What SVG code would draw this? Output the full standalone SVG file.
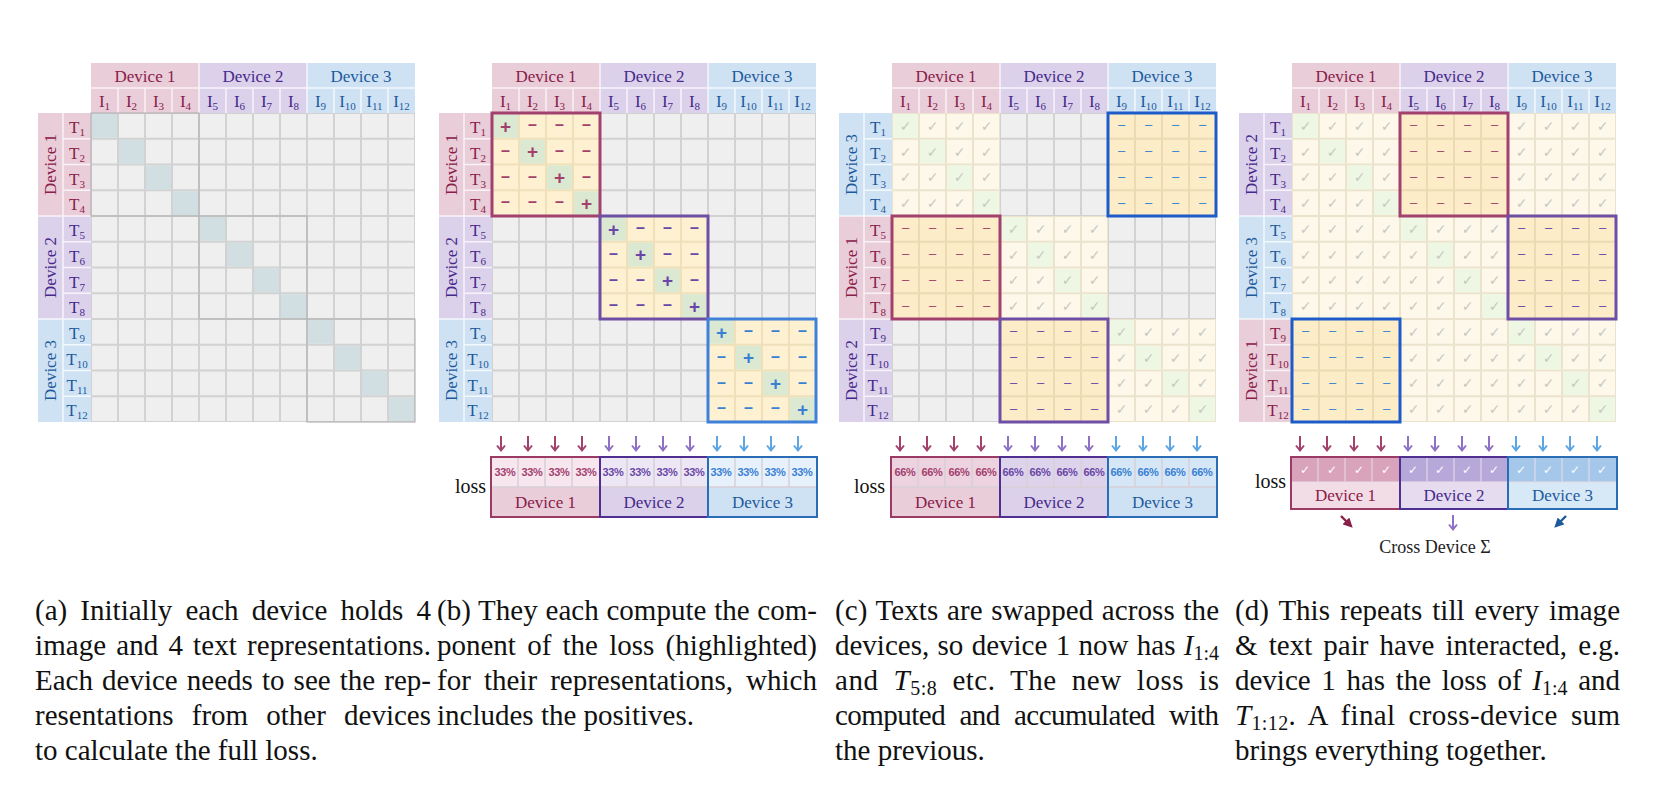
<svg xmlns="http://www.w3.org/2000/svg" width="1658" height="786" viewBox="0 0 1658 786">
<style>
.f1{fill:#e9cdd9}.f2{fill:#dcd1ea}.f3{fill:#cfe2f4}
.c1{fill:#8a2049}.c2{fill:#45298c}.c3{fill:#1d5a9c}
.s1{fill:#a3416e}.s2{fill:#6a47a6}.s3{fill:#3a80d2}
.lbl{font-family:"Liberation Serif","Times New Roman",serif;font-size:17px;text-anchor:middle}
.sub{font-size:11px}
.wl{stroke:#fff;stroke-opacity:.75;stroke-width:1.5;fill:none}
.pl{font-family:"Liberation Sans",Arial,sans-serif;font-size:19px;font-weight:bold;text-anchor:middle}
.dsh{font-family:"Liberation Sans",Arial,sans-serif;font-size:16px;font-weight:bold;text-anchor:middle}
.dsm{font-family:"Liberation Sans",Arial,sans-serif;font-size:13px;text-anchor:middle}
.ck{font-family:"DejaVu Sans",sans-serif;font-size:14px;fill:#c8c8c3;text-anchor:middle}
.wck{font-family:"DejaVu Sans",sans-serif;font-size:12px;font-weight:bold;fill:#fff;text-anchor:middle}
.pct{font-family:"Liberation Sans",Arial,sans-serif;font-size:11px;font-weight:bold;text-anchor:middle;letter-spacing:-0.3px}
.loss{font-family:"Liberation Serif","Times New Roman",serif;font-size:20px;fill:#111;text-anchor:end}
.cap{font-family:"Liberation Serif","Times New Roman",serif;font-size:29px;fill:#111}
.gd{fill:#d2dfe2}.gb{fill:#dbe9d2}.gc{fill:#eef7e3}
.b1{fill:none;stroke:#a3416e;stroke-width:3}.b2{fill:none;stroke:#6e4fa5;stroke-width:3}.b3{fill:none;stroke:#3f80d8;stroke-width:3}.b3d{fill:none;stroke:#1d5cc8;stroke-width:3}
.ob{fill:none;stroke:#b5b5b5;stroke-width:1.2}
.ar1{stroke:#a3416e;stroke-width:2;fill:none}.ar2{stroke:#8e70c6;stroke-width:2;fill:none}.ar3{stroke:#5ea6e2;stroke-width:2;fill:none}
.sep{stroke:#d8cfd6;stroke-width:1.5;fill:none}
</style>
<defs>
<pattern id="pG" patternUnits="userSpaceOnUse" x="0" y="113" width="27" height="25.75"><rect width="27" height="25.75" fill="#efefef" stroke="#d2d2d2" stroke-width="2"/></pattern>
<pattern id="pC" patternUnits="userSpaceOnUse" x="0" y="113" width="27" height="25.75"><rect width="27" height="25.75" fill="#fdf8ea" stroke="#ebe3cd" stroke-width="2"/></pattern>
<pattern id="pY" patternUnits="userSpaceOnUse" x="0" y="113" width="27" height="25.75"><rect width="27" height="25.75" fill="#fdf1d2" stroke="#efe0ba" stroke-width="2"/></pattern>
<pattern id="pD" patternUnits="userSpaceOnUse" x="0" y="113" width="27" height="25.75"><rect width="27" height="25.75" fill="#fdecc8" stroke="#ecdbb2" stroke-width="2"/></pattern>
<marker id="m1" viewBox="0 0 10 10" refX="6" refY="5" markerWidth="4" markerHeight="4" orient="auto"><path d="M0 0L10 5L0 10z" fill="#8a2049"/></marker>
<marker id="m3" viewBox="0 0 10 10" refX="6" refY="5" markerWidth="4" markerHeight="4" orient="auto"><path d="M0 0L10 5L0 10z" fill="#1d5a9c"/></marker>
</defs>
<rect width="1658" height="786" fill="#fff"/>

<!-- ===== Panel (a) ===== -->
<g id="panel-a" transform="translate(91,0)">
<rect class="f1" x="0" y="63" width="108" height="50"/><rect class="f2" x="108" y="63" width="108" height="50"/><rect class="f3" x="216" y="63" width="108" height="50"/>
<path class="wl" d="M0 88H324M27 88V113M54 88V113M81 88V113M108 63V113M135 88V113M162 88V113M189 88V113M216 63V113M243 88V113M270 88V113M297 88V113"/>
<rect class="f1" x="-53" y="113" width="53" height="103"/><rect class="f2" x="-53" y="216" width="53" height="103"/><rect class="f3" x="-53" y="319" width="53" height="103"/>
<path class="wl" d="M-28 113V422M-28 138.75H0M-28 164.5H0M-28 190.25H0M-53 216H0M-28 241.75H0M-28 267.5H0M-28 293.25H0M-53 319H0M-28 344.75H0M-28 370.5H0M-28 396.25H0"/>
<rect x="0" y="113" width="324" height="309" fill="url(#pG)"/>
<rect class="gd" x="1" y="114" width="25" height="23.75"/><rect class="gd" x="28" y="139.75" width="25" height="23.75"/><rect class="gd" x="55" y="165.5" width="25" height="23.75"/><rect class="gd" x="82" y="191.25" width="25" height="23.75"/>
<rect class="gd" x="109" y="217" width="25" height="23.75"/><rect class="gd" x="136" y="242.75" width="25" height="23.75"/><rect class="gd" x="163" y="268.5" width="25" height="23.75"/><rect class="gd" x="190" y="294.25" width="25" height="23.75"/>
<rect class="gd" x="217" y="320" width="25" height="23.75"/><rect class="gd" x="244" y="345.75" width="25" height="23.75"/><rect class="gd" x="271" y="371.5" width="25" height="23.75"/><rect class="gd" x="298" y="397.25" width="25" height="23.75"/>
<rect class="ob" x="0" y="113" width="108" height="103"/><rect class="ob" x="108" y="216" width="108" height="103"/><rect class="ob" x="216" y="319" width="108" height="103"/>
<text class="lbl c1" x="54" y="82">Device 1</text><text class="lbl c2" x="162" y="82">Device 2</text><text class="lbl c3" x="270" y="82">Device 3</text>
<text class="lbl c1" x="13.5" y="107">I<tspan class="sub" dy="3">1</tspan></text><text class="lbl c1" x="40.5" y="107">I<tspan class="sub" dy="3">2</tspan></text><text class="lbl c1" x="67.5" y="107">I<tspan class="sub" dy="3">3</tspan></text><text class="lbl c1" x="94.5" y="107">I<tspan class="sub" dy="3">4</tspan></text>
<text class="lbl c2" x="121.5" y="107">I<tspan class="sub" dy="3">5</tspan></text><text class="lbl c2" x="148.5" y="107">I<tspan class="sub" dy="3">6</tspan></text><text class="lbl c2" x="175.5" y="107">I<tspan class="sub" dy="3">7</tspan></text><text class="lbl c2" x="202.5" y="107">I<tspan class="sub" dy="3">8</tspan></text>
<text class="lbl c3" x="229.5" y="107">I<tspan class="sub" dy="3">9</tspan></text><text class="lbl c3" x="256.5" y="107">I<tspan class="sub" dy="3">10</tspan></text><text class="lbl c3" x="283.5" y="107">I<tspan class="sub" dy="3">11</tspan></text><text class="lbl c3" x="310.5" y="107">I<tspan class="sub" dy="3">12</tspan></text>
<text class="lbl c1" transform="translate(-40.5,164.5) rotate(-90)" y="5.5">Device 1</text><text class="lbl c2" transform="translate(-40.5,267.5) rotate(-90)" y="5.5">Device 2</text><text class="lbl c3" transform="translate(-40.5,370.5) rotate(-90)" y="5.5">Device 3</text>
<text class="lbl c1" x="-14" y="133">T<tspan class="sub" dy="3">1</tspan></text><text class="lbl c1" x="-14" y="158.75">T<tspan class="sub" dy="3">2</tspan></text><text class="lbl c1" x="-14" y="184.5">T<tspan class="sub" dy="3">3</tspan></text><text class="lbl c1" x="-14" y="210.25">T<tspan class="sub" dy="3">4</tspan></text>
<text class="lbl c2" x="-14" y="236">T<tspan class="sub" dy="3">5</tspan></text><text class="lbl c2" x="-14" y="261.75">T<tspan class="sub" dy="3">6</tspan></text><text class="lbl c2" x="-14" y="287.5">T<tspan class="sub" dy="3">7</tspan></text><text class="lbl c2" x="-14" y="313.25">T<tspan class="sub" dy="3">8</tspan></text>
<text class="lbl c3" x="-14" y="339">T<tspan class="sub" dy="3">9</tspan></text><text class="lbl c3" x="-14" y="364.75">T<tspan class="sub" dy="3">10</tspan></text><text class="lbl c3" x="-14" y="390.5">T<tspan class="sub" dy="3">11</tspan></text><text class="lbl c3" x="-14" y="416.25">T<tspan class="sub" dy="3">12</tspan></text>
</g>

<!-- ===== Panel (b) ===== -->
<g id="panel-b" transform="translate(492,0)">
<rect class="f1" x="0" y="63" width="108" height="50"/><rect class="f2" x="108" y="63" width="108" height="50"/><rect class="f3" x="216" y="63" width="108" height="50"/>
<path class="wl" d="M0 88H324M27 88V113M54 88V113M81 88V113M108 63V113M135 88V113M162 88V113M189 88V113M216 63V113M243 88V113M270 88V113M297 88V113"/>
<rect class="f1" x="-53" y="113" width="53" height="103"/><rect class="f2" x="-53" y="216" width="53" height="103"/><rect class="f3" x="-53" y="319" width="53" height="103"/>
<path class="wl" d="M-28 113V422M-28 138.75H0M-28 164.5H0M-28 190.25H0M-53 216H0M-28 241.75H0M-28 267.5H0M-28 293.25H0M-53 319H0M-28 344.75H0M-28 370.5H0M-28 396.25H0"/>
<rect x="0" y="113" width="324" height="309" fill="url(#pG)"/>
<rect x="0" y="113" width="108" height="103" fill="url(#pY)"/><rect x="108" y="216" width="108" height="103" fill="url(#pY)"/><rect x="216" y="319" width="108" height="103" fill="url(#pY)"/>
<rect class="gb" x="1" y="114" width="25" height="23.75"/><rect class="gb" x="28" y="139.75" width="25" height="23.75"/><rect class="gb" x="55" y="165.5" width="25" height="23.75"/><rect class="gb" x="82" y="191.25" width="25" height="23.75"/>
<rect class="gb" x="109" y="217" width="25" height="23.75"/><rect class="gb" x="136" y="242.75" width="25" height="23.75"/><rect class="gb" x="163" y="268.5" width="25" height="23.75"/><rect class="gb" x="190" y="294.25" width="25" height="23.75"/>
<rect class="gb" x="217" y="320" width="25" height="23.75"/><rect class="gb" x="244" y="345.75" width="25" height="23.75"/><rect class="gb" x="271" y="371.5" width="25" height="23.75"/><rect class="gb" x="298" y="397.25" width="25" height="23.75"/>
<rect class="b1" x="0" y="113" width="108" height="103"/><rect class="b2" x="108" y="216" width="108" height="103"/><rect class="b3" x="216" y="319" width="108" height="103"/>
<text class="pl s1" x="13.5" y="132.5">+</text><text class="pl s1" x="40.5" y="158.2">+</text><text class="pl s1" x="67.5" y="184">+</text><text class="pl s1" x="94.5" y="209.7">+</text>
<text class="pl s2" x="121.5" y="235.5">+</text><text class="pl s2" x="148.5" y="261.2">+</text><text class="pl s2" x="175.5" y="287">+</text><text class="pl s2" x="202.5" y="312.7">+</text>
<text class="pl s3" x="229.5" y="338.5">+</text><text class="pl s3" x="256.5" y="364.2">+</text><text class="pl s3" x="283.5" y="390">+</text><text class="pl s3" x="310.5" y="415.7">+</text>
<text class="dsh s1" x="40.5 67.5 94.5" y="130.2">–––</text>
<text class="dsh s1" x="13.5" y="155.9">–</text><text class="dsh s1" x="67.5 94.5" y="155.9">––</text>
<text class="dsh s1" x="13.5 40.5" y="181.7">––</text><text class="dsh s1" x="94.5" y="181.7">–</text>
<text class="dsh s1" x="13.5 40.5 67.5" y="207.4">–––</text>
<text class="dsh s2" x="148.5 175.5 202.5" y="233.2">–––</text>
<text class="dsh s2" x="121.5" y="258.9">–</text><text class="dsh s2" x="175.5 202.5" y="258.9">––</text>
<text class="dsh s2" x="121.5 148.5" y="284.7">––</text><text class="dsh s2" x="202.5" y="284.7">–</text>
<text class="dsh s2" x="121.5 148.5 175.5" y="310.4">–––</text>
<text class="dsh s3" x="256.5 283.5 310.5" y="336.2">–––</text>
<text class="dsh s3" x="229.5" y="361.9">–</text><text class="dsh s3" x="283.5 310.5" y="361.9">––</text>
<text class="dsh s3" x="229.5 256.5" y="387.7">––</text><text class="dsh s3" x="310.5" y="387.7">–</text>
<text class="dsh s3" x="229.5 256.5 283.5" y="413.4">–––</text>
<text class="lbl c1" x="54" y="82">Device 1</text><text class="lbl c2" x="162" y="82">Device 2</text><text class="lbl c3" x="270" y="82">Device 3</text>
<text class="lbl c1" x="13.5" y="107">I<tspan class="sub" dy="3">1</tspan></text><text class="lbl c1" x="40.5" y="107">I<tspan class="sub" dy="3">2</tspan></text><text class="lbl c1" x="67.5" y="107">I<tspan class="sub" dy="3">3</tspan></text><text class="lbl c1" x="94.5" y="107">I<tspan class="sub" dy="3">4</tspan></text>
<text class="lbl c2" x="121.5" y="107">I<tspan class="sub" dy="3">5</tspan></text><text class="lbl c2" x="148.5" y="107">I<tspan class="sub" dy="3">6</tspan></text><text class="lbl c2" x="175.5" y="107">I<tspan class="sub" dy="3">7</tspan></text><text class="lbl c2" x="202.5" y="107">I<tspan class="sub" dy="3">8</tspan></text>
<text class="lbl c3" x="229.5" y="107">I<tspan class="sub" dy="3">9</tspan></text><text class="lbl c3" x="256.5" y="107">I<tspan class="sub" dy="3">10</tspan></text><text class="lbl c3" x="283.5" y="107">I<tspan class="sub" dy="3">11</tspan></text><text class="lbl c3" x="310.5" y="107">I<tspan class="sub" dy="3">12</tspan></text>
<text class="lbl c1" transform="translate(-40.5,164.5) rotate(-90)" y="5.5">Device 1</text><text class="lbl c2" transform="translate(-40.5,267.5) rotate(-90)" y="5.5">Device 2</text><text class="lbl c3" transform="translate(-40.5,370.5) rotate(-90)" y="5.5">Device 3</text>
<text class="lbl c1" x="-14" y="133">T<tspan class="sub" dy="3">1</tspan></text><text class="lbl c1" x="-14" y="158.75">T<tspan class="sub" dy="3">2</tspan></text><text class="lbl c1" x="-14" y="184.5">T<tspan class="sub" dy="3">3</tspan></text><text class="lbl c1" x="-14" y="210.25">T<tspan class="sub" dy="3">4</tspan></text>
<text class="lbl c2" x="-14" y="236">T<tspan class="sub" dy="3">5</tspan></text><text class="lbl c2" x="-14" y="261.75">T<tspan class="sub" dy="3">6</tspan></text><text class="lbl c2" x="-14" y="287.5">T<tspan class="sub" dy="3">7</tspan></text><text class="lbl c2" x="-14" y="313.25">T<tspan class="sub" dy="3">8</tspan></text>
<text class="lbl c3" x="-14" y="339">T<tspan class="sub" dy="3">9</tspan></text><text class="lbl c3" x="-14" y="364.75">T<tspan class="sub" dy="3">10</tspan></text><text class="lbl c3" x="-14" y="390.5">T<tspan class="sub" dy="3">11</tspan></text><text class="lbl c3" x="-14" y="416.25">T<tspan class="sub" dy="3">12</tspan></text>
<g id="loss-b">
<rect x="-1" y="457" width="109" height="30" fill="#f7e6ee"/><rect class="f1" x="-1" y="487" width="109" height="30"/>
<rect x="108" y="457" width="108" height="30" fill="#ede7f5"/><rect class="f2" x="108" y="487" width="108" height="30"/>
<rect x="216" y="457" width="109" height="30" fill="#e6f1fc"/><rect class="f3" x="216" y="487" width="109" height="30"/>
<path class="sep" d="M26 457V487M53 457V487M80 457V487M135 457V487M162 457V487M189 457V487M243 457V487M270 457V487M297 457V487M-1 487H325"/>
<rect x="-1" y="457" width="109" height="60" fill="none" stroke="#9c3a66" stroke-width="2"/><rect x="108" y="457" width="108" height="60" fill="none" stroke="#4f3092" stroke-width="2"/><rect x="216" y="457" width="109" height="60" fill="none" stroke="#2a6cb5" stroke-width="2"/>
<text class="pct s1" y="476"><tspan x="13">33%</tspan><tspan x="40">33%</tspan><tspan x="67">33%</tspan><tspan x="94">33%</tspan></text>
<text class="pct s2" y="476"><tspan x="121">33%</tspan><tspan x="148">33%</tspan><tspan x="175">33%</tspan><tspan x="202">33%</tspan></text>
<text class="pct s3" y="476"><tspan x="229">33%</tspan><tspan x="256">33%</tspan><tspan x="283">33%</tspan><tspan x="310">33%</tspan></text>
<text class="lbl c1" x="53.5" y="508">Device 1</text><text class="lbl c2" x="162" y="508">Device 2</text><text class="lbl c3" x="270.5" y="508">Device 3</text>
<text class="loss" x="-6" y="493">loss</text>
</g>
</g>

<!-- ===== Panel (c) ===== -->
<g id="panel-c" transform="translate(892,0)">
<rect class="f1" x="0" y="63" width="108" height="50"/><rect class="f2" x="108" y="63" width="108" height="50"/><rect class="f3" x="216" y="63" width="108" height="50"/>
<path class="wl" d="M0 88H324M27 88V113M54 88V113M81 88V113M108 63V113M135 88V113M162 88V113M189 88V113M216 63V113M243 88V113M270 88V113M297 88V113"/>
<rect class="f3" x="-53" y="113" width="53" height="103"/><rect class="f1" x="-53" y="216" width="53" height="103"/><rect class="f2" x="-53" y="319" width="53" height="103"/>
<path class="wl" d="M-28 113V422M-28 138.75H0M-28 164.5H0M-28 190.25H0M-53 216H0M-28 241.75H0M-28 267.5H0M-28 293.25H0M-53 319H0M-28 344.75H0M-28 370.5H0M-28 396.25H0"/>
<rect x="0" y="113" width="324" height="309" fill="url(#pG)"/>
<rect x="0" y="113" width="108" height="103" fill="url(#pC)"/><rect x="108" y="216" width="108" height="103" fill="url(#pC)"/><rect x="216" y="319" width="108" height="103" fill="url(#pC)"/>
<rect x="216" y="113" width="108" height="103" fill="url(#pD)"/><rect x="0" y="216" width="108" height="103" fill="url(#pD)"/><rect x="108" y="319" width="108" height="103" fill="url(#pD)"/>
<rect class="gc" x="1" y="114" width="25" height="23.75"/><rect class="gc" x="28" y="139.75" width="25" height="23.75"/><rect class="gc" x="55" y="165.5" width="25" height="23.75"/><rect class="gc" x="82" y="191.25" width="25" height="23.75"/>
<rect class="gc" x="109" y="217" width="25" height="23.75"/><rect class="gc" x="136" y="242.75" width="25" height="23.75"/><rect class="gc" x="163" y="268.5" width="25" height="23.75"/><rect class="gc" x="190" y="294.25" width="25" height="23.75"/>
<rect class="gc" x="217" y="320" width="25" height="23.75"/><rect class="gc" x="244" y="345.75" width="25" height="23.75"/><rect class="gc" x="271" y="371.5" width="25" height="23.75"/><rect class="gc" x="298" y="397.25" width="25" height="23.75"/>
<rect class="b3d" x="216" y="113" width="108" height="103"/><rect class="b1" x="0" y="216" width="108" height="103"/><rect class="b2" x="108" y="319" width="108" height="103"/>
<text class="ck" x="13.5 40.5 67.5 94.5" y="130.9">✓✓✓✓</text><text class="ck" x="13.5 40.5 67.5 94.5" y="156.6">✓✓✓✓</text><text class="ck" x="13.5 40.5 67.5 94.5" y="182.4">✓✓✓✓</text><text class="ck" x="13.5 40.5 67.5 94.5" y="208.1">✓✓✓✓</text>
<text class="ck" x="121.5 148.5 175.5 202.5" y="233.9">✓✓✓✓</text><text class="ck" x="121.5 148.5 175.5 202.5" y="259.6">✓✓✓✓</text><text class="ck" x="121.5 148.5 175.5 202.5" y="285.4">✓✓✓✓</text><text class="ck" x="121.5 148.5 175.5 202.5" y="311.1">✓✓✓✓</text>
<text class="ck" x="229.5 256.5 283.5 310.5" y="336.9">✓✓✓✓</text><text class="ck" x="229.5 256.5 283.5 310.5" y="362.6">✓✓✓✓</text><text class="ck" x="229.5 256.5 283.5 310.5" y="388.4">✓✓✓✓</text><text class="ck" x="229.5 256.5 283.5 310.5" y="414.1">✓✓✓✓</text>
<text class="dsm s3" x="229.5 256.5 283.5 310.5" y="129.4">––––</text><text class="dsm s3" x="229.5 256.5 283.5 310.5" y="155.1">––––</text><text class="dsm s3" x="229.5 256.5 283.5 310.5" y="180.9">––––</text><text class="dsm s3" x="229.5 256.5 283.5 310.5" y="206.6">––––</text>
<text class="dsm s1" x="13.5 40.5 67.5 94.5" y="232.4">––––</text><text class="dsm s1" x="13.5 40.5 67.5 94.5" y="258.1">––––</text><text class="dsm s1" x="13.5 40.5 67.5 94.5" y="283.9">––––</text><text class="dsm s1" x="13.5 40.5 67.5 94.5" y="309.6">––––</text>
<text class="dsm s2" x="121.5 148.5 175.5 202.5" y="335.4">––––</text><text class="dsm s2" x="121.5 148.5 175.5 202.5" y="361.1">––––</text><text class="dsm s2" x="121.5 148.5 175.5 202.5" y="386.9">––––</text><text class="dsm s2" x="121.5 148.5 175.5 202.5" y="412.6">––––</text>
<text class="lbl c1" x="54" y="82">Device 1</text><text class="lbl c2" x="162" y="82">Device 2</text><text class="lbl c3" x="270" y="82">Device 3</text>
<text class="lbl c1" x="13.5" y="107">I<tspan class="sub" dy="3">1</tspan></text><text class="lbl c1" x="40.5" y="107">I<tspan class="sub" dy="3">2</tspan></text><text class="lbl c1" x="67.5" y="107">I<tspan class="sub" dy="3">3</tspan></text><text class="lbl c1" x="94.5" y="107">I<tspan class="sub" dy="3">4</tspan></text>
<text class="lbl c2" x="121.5" y="107">I<tspan class="sub" dy="3">5</tspan></text><text class="lbl c2" x="148.5" y="107">I<tspan class="sub" dy="3">6</tspan></text><text class="lbl c2" x="175.5" y="107">I<tspan class="sub" dy="3">7</tspan></text><text class="lbl c2" x="202.5" y="107">I<tspan class="sub" dy="3">8</tspan></text>
<text class="lbl c3" x="229.5" y="107">I<tspan class="sub" dy="3">9</tspan></text><text class="lbl c3" x="256.5" y="107">I<tspan class="sub" dy="3">10</tspan></text><text class="lbl c3" x="283.5" y="107">I<tspan class="sub" dy="3">11</tspan></text><text class="lbl c3" x="310.5" y="107">I<tspan class="sub" dy="3">12</tspan></text>
<text class="lbl c3" transform="translate(-40.5,164.5) rotate(-90)" y="5.5">Device 3</text><text class="lbl c1" transform="translate(-40.5,267.5) rotate(-90)" y="5.5">Device 1</text><text class="lbl c2" transform="translate(-40.5,370.5) rotate(-90)" y="5.5">Device 2</text>
<text class="lbl c3" x="-14" y="133">T<tspan class="sub" dy="3">1</tspan></text><text class="lbl c3" x="-14" y="158.75">T<tspan class="sub" dy="3">2</tspan></text><text class="lbl c3" x="-14" y="184.5">T<tspan class="sub" dy="3">3</tspan></text><text class="lbl c3" x="-14" y="210.25">T<tspan class="sub" dy="3">4</tspan></text>
<text class="lbl c1" x="-14" y="236">T<tspan class="sub" dy="3">5</tspan></text><text class="lbl c1" x="-14" y="261.75">T<tspan class="sub" dy="3">6</tspan></text><text class="lbl c1" x="-14" y="287.5">T<tspan class="sub" dy="3">7</tspan></text><text class="lbl c1" x="-14" y="313.25">T<tspan class="sub" dy="3">8</tspan></text>
<text class="lbl c2" x="-14" y="339">T<tspan class="sub" dy="3">9</tspan></text><text class="lbl c2" x="-14" y="364.75">T<tspan class="sub" dy="3">10</tspan></text><text class="lbl c2" x="-14" y="390.5">T<tspan class="sub" dy="3">11</tspan></text><text class="lbl c2" x="-14" y="416.25">T<tspan class="sub" dy="3">12</tspan></text>
<g id="loss-c">
<rect x="-1" y="457" width="109" height="30" fill="#ecd3df"/><rect class="f1" x="-1" y="487" width="109" height="30"/>
<rect x="108" y="457" width="108" height="30" fill="#ddd4ec"/><rect class="f2" x="108" y="487" width="108" height="30"/>
<rect x="216" y="457" width="109" height="30" fill="#d5e7f7"/><rect class="f3" x="216" y="487" width="109" height="30"/>
<path class="sep" d="M26 457V487M53 457V487M80 457V487M135 457V487M162 457V487M189 457V487M243 457V487M270 457V487M297 457V487M-1 487H325"/>
<rect x="-1" y="457" width="109" height="60" fill="none" stroke="#9c3a66" stroke-width="2"/><rect x="108" y="457" width="108" height="60" fill="none" stroke="#4f3092" stroke-width="2"/><rect x="216" y="457" width="109" height="60" fill="none" stroke="#2a6cb5" stroke-width="2"/>
<text class="pct s1" y="476"><tspan x="13">66%</tspan><tspan x="40">66%</tspan><tspan x="67">66%</tspan><tspan x="94">66%</tspan></text>
<text class="pct s2" y="476"><tspan x="121">66%</tspan><tspan x="148">66%</tspan><tspan x="175">66%</tspan><tspan x="202">66%</tspan></text>
<text class="pct s3" y="476"><tspan x="229">66%</tspan><tspan x="256">66%</tspan><tspan x="283">66%</tspan><tspan x="310">66%</tspan></text>
<text class="lbl c1" x="53.5" y="508">Device 1</text><text class="lbl c2" x="162" y="508">Device 2</text><text class="lbl c3" x="270.5" y="508">Device 3</text>
<text class="loss" x="-7" y="493">loss</text>
</g>
</g>

<!-- ===== Panel (d) ===== -->
<g id="panel-d" transform="translate(1292,0)">
<rect class="f1" x="0" y="63" width="108" height="50"/><rect class="f2" x="108" y="63" width="108" height="50"/><rect class="f3" x="216" y="63" width="108" height="50"/>
<path class="wl" d="M0 88H324M27 88V113M54 88V113M81 88V113M108 63V113M135 88V113M162 88V113M189 88V113M216 63V113M243 88V113M270 88V113M297 88V113"/>
<rect class="f2" x="-53" y="113" width="53" height="103"/><rect class="f3" x="-53" y="216" width="53" height="103"/><rect class="f1" x="-53" y="319" width="53" height="103"/>
<path class="wl" d="M-28 113V422M-28 138.75H0M-28 164.5H0M-28 190.25H0M-53 216H0M-28 241.75H0M-28 267.5H0M-28 293.25H0M-53 319H0M-28 344.75H0M-28 370.5H0M-28 396.25H0"/>
<rect x="0" y="113" width="324" height="309" fill="url(#pC)"/>
<rect x="108" y="113" width="108" height="103" fill="url(#pD)"/><rect x="216" y="216" width="108" height="103" fill="url(#pD)"/><rect x="0" y="319" width="108" height="103" fill="url(#pD)"/>
<rect class="gc" x="1" y="114" width="25" height="23.75"/><rect class="gc" x="28" y="139.75" width="25" height="23.75"/><rect class="gc" x="55" y="165.5" width="25" height="23.75"/><rect class="gc" x="82" y="191.25" width="25" height="23.75"/>
<rect class="gc" x="109" y="217" width="25" height="23.75"/><rect class="gc" x="136" y="242.75" width="25" height="23.75"/><rect class="gc" x="163" y="268.5" width="25" height="23.75"/><rect class="gc" x="190" y="294.25" width="25" height="23.75"/>
<rect class="gc" x="217" y="320" width="25" height="23.75"/><rect class="gc" x="244" y="345.75" width="25" height="23.75"/><rect class="gc" x="271" y="371.5" width="25" height="23.75"/><rect class="gc" x="298" y="397.25" width="25" height="23.75"/>
<rect class="b1" x="108" y="113" width="108" height="103"/><rect class="b2" x="216" y="216" width="108" height="103"/><rect class="b3d" x="0" y="319" width="108" height="103"/>
<text class="ck" x="13.5 40.5 67.5 94.5" y="130.9">✓✓✓✓</text><text class="ck" x="229.5 256.5 283.5 310.5" y="130.9">✓✓✓✓</text>
<text class="ck" x="13.5 40.5 67.5 94.5" y="156.6">✓✓✓✓</text><text class="ck" x="229.5 256.5 283.5 310.5" y="156.6">✓✓✓✓</text>
<text class="ck" x="13.5 40.5 67.5 94.5" y="182.4">✓✓✓✓</text><text class="ck" x="229.5 256.5 283.5 310.5" y="182.4">✓✓✓✓</text>
<text class="ck" x="13.5 40.5 67.5 94.5" y="208.1">✓✓✓✓</text><text class="ck" x="229.5 256.5 283.5 310.5" y="208.1">✓✓✓✓</text>
<text class="ck" x="13.5 40.5 67.5 94.5 121.5 148.5 175.5 202.5" y="233.9">✓✓✓✓✓✓✓✓</text><text class="ck" x="13.5 40.5 67.5 94.5 121.5 148.5 175.5 202.5" y="259.6">✓✓✓✓✓✓✓✓</text><text class="ck" x="13.5 40.5 67.5 94.5 121.5 148.5 175.5 202.5" y="285.4">✓✓✓✓✓✓✓✓</text><text class="ck" x="13.5 40.5 67.5 94.5 121.5 148.5 175.5 202.5" y="311.1">✓✓✓✓✓✓✓✓</text>
<text class="ck" x="121.5 148.5 175.5 202.5 229.5 256.5 283.5 310.5" y="336.9">✓✓✓✓✓✓✓✓</text><text class="ck" x="121.5 148.5 175.5 202.5 229.5 256.5 283.5 310.5" y="362.6">✓✓✓✓✓✓✓✓</text><text class="ck" x="121.5 148.5 175.5 202.5 229.5 256.5 283.5 310.5" y="388.4">✓✓✓✓✓✓✓✓</text><text class="ck" x="121.5 148.5 175.5 202.5 229.5 256.5 283.5 310.5" y="414.1">✓✓✓✓✓✓✓✓</text>
<text class="dsm s1" x="121.5 148.5 175.5 202.5" y="129.4">––––</text><text class="dsm s1" x="121.5 148.5 175.5 202.5" y="155.1">––––</text><text class="dsm s1" x="121.5 148.5 175.5 202.5" y="180.9">––––</text><text class="dsm s1" x="121.5 148.5 175.5 202.5" y="206.6">––––</text>
<text class="dsm s2" x="229.5 256.5 283.5 310.5" y="232.4">––––</text><text class="dsm s2" x="229.5 256.5 283.5 310.5" y="258.1">––––</text><text class="dsm s2" x="229.5 256.5 283.5 310.5" y="283.9">––––</text><text class="dsm s2" x="229.5 256.5 283.5 310.5" y="309.6">––––</text>
<text class="dsm s3" x="13.5 40.5 67.5 94.5" y="335.4">––––</text><text class="dsm s3" x="13.5 40.5 67.5 94.5" y="361.1">––––</text><text class="dsm s3" x="13.5 40.5 67.5 94.5" y="386.9">––––</text><text class="dsm s3" x="13.5 40.5 67.5 94.5" y="412.6">––––</text>
<text class="lbl c1" x="54" y="82">Device 1</text><text class="lbl c2" x="162" y="82">Device 2</text><text class="lbl c3" x="270" y="82">Device 3</text>
<text class="lbl c1" x="13.5" y="107">I<tspan class="sub" dy="3">1</tspan></text><text class="lbl c1" x="40.5" y="107">I<tspan class="sub" dy="3">2</tspan></text><text class="lbl c1" x="67.5" y="107">I<tspan class="sub" dy="3">3</tspan></text><text class="lbl c1" x="94.5" y="107">I<tspan class="sub" dy="3">4</tspan></text>
<text class="lbl c2" x="121.5" y="107">I<tspan class="sub" dy="3">5</tspan></text><text class="lbl c2" x="148.5" y="107">I<tspan class="sub" dy="3">6</tspan></text><text class="lbl c2" x="175.5" y="107">I<tspan class="sub" dy="3">7</tspan></text><text class="lbl c2" x="202.5" y="107">I<tspan class="sub" dy="3">8</tspan></text>
<text class="lbl c3" x="229.5" y="107">I<tspan class="sub" dy="3">9</tspan></text><text class="lbl c3" x="256.5" y="107">I<tspan class="sub" dy="3">10</tspan></text><text class="lbl c3" x="283.5" y="107">I<tspan class="sub" dy="3">11</tspan></text><text class="lbl c3" x="310.5" y="107">I<tspan class="sub" dy="3">12</tspan></text>
<text class="lbl c2" transform="translate(-40.5,164.5) rotate(-90)" y="5.5">Device 2</text><text class="lbl c3" transform="translate(-40.5,267.5) rotate(-90)" y="5.5">Device 3</text><text class="lbl c1" transform="translate(-40.5,370.5) rotate(-90)" y="5.5">Device 1</text>
<text class="lbl c2" x="-14" y="133">T<tspan class="sub" dy="3">1</tspan></text><text class="lbl c2" x="-14" y="158.75">T<tspan class="sub" dy="3">2</tspan></text><text class="lbl c2" x="-14" y="184.5">T<tspan class="sub" dy="3">3</tspan></text><text class="lbl c2" x="-14" y="210.25">T<tspan class="sub" dy="3">4</tspan></text>
<text class="lbl c3" x="-14" y="236">T<tspan class="sub" dy="3">5</tspan></text><text class="lbl c3" x="-14" y="261.75">T<tspan class="sub" dy="3">6</tspan></text><text class="lbl c3" x="-14" y="287.5">T<tspan class="sub" dy="3">7</tspan></text><text class="lbl c3" x="-14" y="313.25">T<tspan class="sub" dy="3">8</tspan></text>
<text class="lbl c1" x="-14" y="339">T<tspan class="sub" dy="3">9</tspan></text><text class="lbl c1" x="-14" y="364.75">T<tspan class="sub" dy="3">10</tspan></text><text class="lbl c1" x="-14" y="390.5">T<tspan class="sub" dy="3">11</tspan></text><text class="lbl c1" x="-14" y="416.25">T<tspan class="sub" dy="3">12</tspan></text>
<g id="loss-d">
<rect x="-1" y="457" width="109" height="25" fill="#d9a3bb"/><rect x="-1" y="482" width="109" height="27" fill="#f2dde6"/>
<rect x="108" y="457" width="108" height="25" fill="#b7a8da"/><rect x="108" y="482" width="108" height="27" fill="#e5dcf0"/>
<rect x="216" y="457" width="109" height="25" fill="#a5c8ea"/><rect x="216" y="482" width="109" height="27" fill="#d7e8f7"/>
<path d="M26 457V482M53 457V482M80 457V482M135 457V482M162 457V482M189 457V482M243 457V482M270 457V482M297 457V482M-1 482H325" stroke="#e6dde6" stroke-opacity=".7" stroke-width="1.5" fill="none"/>
<rect x="-1" y="457" width="109" height="52" fill="none" stroke="#9c3a66" stroke-width="2"/><rect x="108" y="457" width="108" height="52" fill="none" stroke="#4f3092" stroke-width="2"/><rect x="216" y="457" width="109" height="52" fill="none" stroke="#2a6cb5" stroke-width="2"/>
<text class="wck" x="13 40 67 94 121 148 175 202 229 256 283 310" y="474">✓✓✓✓✓✓✓✓✓✓✓✓</text>
<text class="lbl c1" x="53.5" y="501">Device 1</text><text class="lbl c2" x="162" y="501">Device 2</text><text class="lbl c3" x="270.5" y="501">Device 3</text>
<text class="loss" x="-6" y="488">loss</text>
<text class="lbl" x="143" y="553" style="font-size:18px;fill:#222">Cross Device Σ</text>
</g>
</g>

<!-- ===== Connectors (arrows) ===== -->
<g id="connectors">
<path class="ar1" d="M501 436V450M497 445.5L501 450.5L505 445.5M528 436V450M524 445.5L528 450.5L532 445.5M555 436V450M551 445.5L555 450.5L559 445.5M582 436V450M578 445.5L582 450.5L586 445.5"/>
<path class="ar2" d="M609 436V450M605 445.5L609 450.5L613 445.5M636 436V450M632 445.5L636 450.5L640 445.5M663 436V450M659 445.5L663 450.5L667 445.5M690 436V450M686 445.5L690 450.5L694 445.5"/>
<path class="ar3" d="M717 436V450M713 445.5L717 450.5L721 445.5M744 436V450M740 445.5L744 450.5L748 445.5M771 436V450M767 445.5L771 450.5L775 445.5M798 436V450M794 445.5L798 450.5L802 445.5"/>
<path class="ar1" d="M900 436V450M896 445.5L900 450.5L904 445.5M927 436V450M923 445.5L927 450.5L931 445.5M954 436V450M950 445.5L954 450.5L958 445.5M981 436V450M977 445.5L981 450.5L985 445.5"/>
<path class="ar2" d="M1008 436V450M1004 445.5L1008 450.5L1012 445.5M1035 436V450M1031 445.5L1035 450.5L1039 445.5M1062 436V450M1058 445.5L1062 450.5L1066 445.5M1089 436V450M1085 445.5L1089 450.5L1093 445.5"/>
<path class="ar3" d="M1116 436V450M1112 445.5L1116 450.5L1120 445.5M1143 436V450M1139 445.5L1143 450.5L1147 445.5M1170 436V450M1166 445.5L1170 450.5L1174 445.5M1197 436V450M1193 445.5L1197 450.5L1201 445.5"/>
<path class="ar1" d="M1300 436V450M1296 445.5L1300 450.5L1304 445.5M1327 436V450M1323 445.5L1327 450.5L1331 445.5M1354 436V450M1350 445.5L1354 450.5L1358 445.5M1381 436V450M1377 445.5L1381 450.5L1385 445.5"/>
<path class="ar2" d="M1408 436V450M1404 445.5L1408 450.5L1412 445.5M1435 436V450M1431 445.5L1435 450.5L1439 445.5M1462 436V450M1458 445.5L1462 450.5L1466 445.5M1489 436V450M1485 445.5L1489 450.5L1493 445.5"/>
<path class="ar3" d="M1516 436V450M1512 445.5L1516 450.5L1520 445.5M1543 436V450M1539 445.5L1543 450.5L1547 445.5M1570 436V450M1566 445.5L1570 450.5L1574 445.5M1597 436V450M1593 445.5L1597 450.5L1601 445.5"/>
<path d="M1341 516L1350 525" stroke="#8a2049" stroke-width="2.4" marker-end="url(#m1)"/>
<path class="ar2" d="M1453 515V529M1449 524.5L1453 529.5L1457 524.5"/>
<path d="M1566 516L1557 525" stroke="#1d5a9c" stroke-width="2.4" marker-end="url(#m3)"/>
</g>

<!-- ===== Captions ===== -->
<g id="captions" class="cap">
<text x="35" y="620" textLength="396" lengthAdjust="spacing" style="word-spacing:5.9px">(a) Initially each device holds 4</text>
<text x="35" y="655" textLength="396" lengthAdjust="spacing" style="word-spacing:2.7px">image and 4 text representations.</text>
<text x="35" y="690" textLength="396" lengthAdjust="spacing" style="word-spacing:1.9px">Each device needs to see the rep-</text>
<text x="35" y="725" textLength="396" lengthAdjust="spacing" style="word-spacing:10.9px">resentations from other devices</text>
<text x="35" y="760">to calculate the full loss.</text>
<text x="437" y="620" textLength="380" lengthAdjust="spacing" style="word-spacing:0.5px">(b) They each compute the com-</text>
<text x="437" y="655" textLength="380" lengthAdjust="spacing" style="word-spacing:4px">ponent of the loss (highlighted)</text>
<text x="437" y="690" textLength="380" lengthAdjust="spacing" style="word-spacing:5.8px">for their representations, which</text>
<text x="437" y="725">includes the positives.</text>
<text x="835" y="620" textLength="384" lengthAdjust="spacing" style="word-spacing:1.3px">(c) Texts are swapped across the</text>
<text x="835" y="655" textLength="384" lengthAdjust="spacing" style="word-spacing:1.1px">devices, so device 1 now has <tspan font-style="italic">I</tspan><tspan font-size="20" dy="5">1:4</tspan></text>
<text x="835" y="690" textLength="384" lengthAdjust="spacing" style="word-spacing:7.3px">and <tspan font-style="italic">T</tspan><tspan font-size="20" dy="5">5:8</tspan><tspan dy="-5"> etc. The new loss is</tspan></text>
<text x="835" y="725" textLength="384" lengthAdjust="spacing" style="word-spacing:7.5px">computed and accumulated with</text>
<text x="835" y="760">the previous.</text>
<text x="1235" y="620" textLength="385" lengthAdjust="spacing" style="word-spacing:2.8px">(d) This repeats till every image</text>
<text x="1235" y="655" textLength="385" lengthAdjust="spacing" style="word-spacing:3.9px">&amp; text pair have interacted, e.g.</text>
<text x="1235" y="690" textLength="385" lengthAdjust="spacing" style="word-spacing:3.4px">device 1 has the loss of <tspan font-style="italic">I</tspan><tspan font-size="20" dy="5">1:4</tspan><tspan dy="-5"> and</tspan></text>
<text x="1235" y="725" textLength="385" lengthAdjust="spacing" style="word-spacing:5.5px"><tspan font-style="italic">T</tspan><tspan font-size="20" dy="5">1:12</tspan><tspan dy="-5">. A final cross-device sum</tspan></text>
<text x="1235" y="760">brings everything together.</text>
</g>
</svg>
